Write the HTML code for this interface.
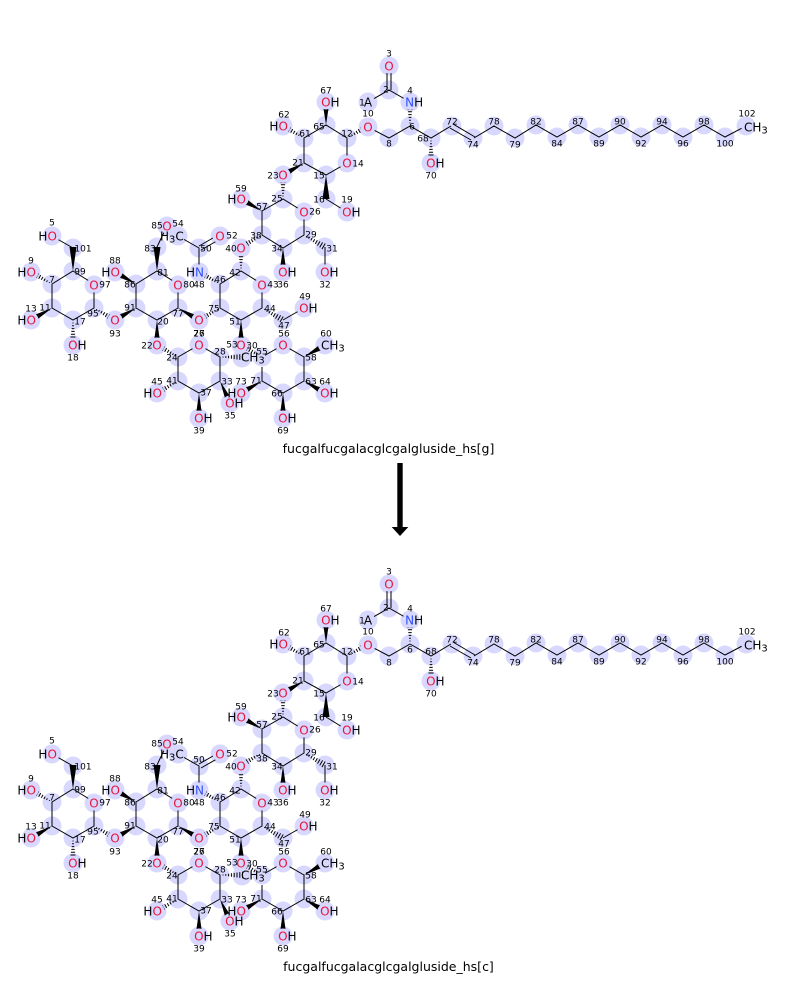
<!DOCTYPE html>
<html><head><meta charset="utf-8"><title>fucgalfucgalacglcgalgluside reaction</title>
<style>
html,body{margin:0;padding:0;background:#fff;width:800px;height:1000px;overflow:hidden}
svg{display:block}
text{font-family:"DejaVu Sans","Liberation Sans",sans-serif}
.a text{font-size:12px;fill:#000}
.r{fill:#e8153c}
.b{fill:#3050f8}
.c{text-anchor:middle}
.e{text-anchor:end}
.s{font-size:10px}
.n text{font-size:9px;fill:#000;text-anchor:middle}
.t{font-size:12.5px;fill:#000;text-anchor:middle}
</style></head><body>
<svg xmlns="http://www.w3.org/2000/svg" width="800" height="1000" viewBox="0 0 800 1000">
<defs>
<g id="h" stroke="#000" stroke-width="1" fill="none"><path d="M3 -.5V.5M5.8 -.9V.9M8.6 -1.3V1.3M11.4 -1.7V1.7M14.2 -2.1V2.1M17 -2.5V2.5M19.8 -2.9V2.9M22.6 -3.3V3.3"/></g>
<mask id="m" maskUnits="userSpaceOnUse" x="0" y="0" width="800" height="500">
<rect x="0" y="0" width="800" height="500" fill="#fff"/>
<g fill="#000">
<circle cx="52" cy="236" r="7.5"/><circle cx="94" cy="285" r="7.5"/><circle cx="31" cy="272" r="7.5"/><circle cx="31" cy="320" r="7.5"/><circle cx="73" cy="345" r="7.5"/><circle cx="115" cy="320" r="7.5"/><circle cx="115" cy="272" r="7.5"/><circle cx="167" cy="226" r="7.5"/><circle cx="178" cy="236" r="7"/><circle cx="220" cy="236" r="7.5"/><circle cx="199" cy="272" r="7.5"/><circle cx="178" cy="285" r="7.5"/><circle cx="199" cy="320" r="7.5"/><circle cx="199" cy="345" r="7.5"/><circle cx="157" cy="345" r="7.5"/><circle cx="157" cy="393" r="7.5"/><circle cx="199" cy="418" r="7.5"/><circle cx="230" cy="403" r="7.5"/><circle cx="241" cy="393" r="7.5"/><circle cx="283" cy="418" r="7.5"/><circle cx="325" cy="393" r="7.5"/><circle cx="325" cy="345" r="7"/><circle cx="283" cy="345" r="7.5"/><circle cx="241" cy="345" r="7.5"/><circle cx="262" cy="285" r="7.5"/><circle cx="304" cy="308" r="7.5"/><circle cx="241" cy="248" r="7.5"/><circle cx="241" cy="199" r="7.5"/><circle cx="304" cy="212" r="7.5"/><circle cx="283" cy="272" r="7.5"/><circle cx="325" cy="272" r="7.5"/><circle cx="283" cy="175" r="7.5"/><circle cx="347" cy="212" r="7.5"/><circle cx="347" cy="163" r="7.5"/><circle cx="283" cy="126" r="7.5"/><circle cx="326" cy="102" r="7.5"/><circle cx="368" cy="127" r="7.5"/><circle cx="410" cy="102" r="7.5"/><circle cx="368" cy="102" r="7"/><circle cx="389" cy="66" r="7.5"/><circle cx="431" cy="163" r="7.5"/><circle cx="746" cy="126" r="5"/>
<rect x="243" y="354" width="22" height="13"/>
</g></mask>
<g id="o" fill="#d8d8ff">
<circle cx="52" cy="236" r="9.5"/><circle cx="73" cy="248" r="9.5"/><circle cx="73" cy="271" r="9.5"/><circle cx="94" cy="285" r="9.5"/><circle cx="94" cy="308" r="9.5"/><circle cx="73" cy="320" r="9.5"/><circle cx="52" cy="308" r="9.5"/><circle cx="52" cy="284" r="9.5"/><circle cx="31" cy="272" r="9.5"/><circle cx="31" cy="320" r="9.5"/><circle cx="73" cy="345" r="9.5"/><circle cx="115" cy="320" r="9.5"/><circle cx="136" cy="308" r="9.5"/><circle cx="136" cy="284" r="9.5"/><circle cx="115" cy="272" r="9.5"/><circle cx="157" cy="271" r="9.5"/><circle cx="157" cy="247" r="9.5"/><circle cx="167" cy="226" r="9.5"/><circle cx="178" cy="236" r="9.5"/><circle cx="199" cy="248" r="9.5"/><circle cx="220" cy="236" r="9.5"/><circle cx="199" cy="272" r="9.5"/><circle cx="178" cy="285" r="9.5"/><circle cx="220" cy="284" r="9.5"/><circle cx="220" cy="308" r="9.5"/><circle cx="178" cy="308" r="9.5"/><circle cx="157" cy="320" r="9.5"/><circle cx="157" cy="345" r="9.5"/><circle cx="199" cy="320" r="9.5"/><circle cx="199" cy="345" r="9.5"/><circle cx="178" cy="357" r="9.5"/><circle cx="178" cy="381" r="9.5"/><circle cx="199" cy="393" r="9.5"/><circle cx="220" cy="381" r="9.5"/><circle cx="220" cy="357" r="9.5"/><circle cx="157" cy="393" r="9.5"/><circle cx="199" cy="418" r="9.5"/><circle cx="230" cy="403" r="9.5"/><circle cx="241" cy="393" r="9.5"/><circle cx="262" cy="381" r="9.5"/><circle cx="283" cy="393" r="9.5"/><circle cx="304" cy="381" r="9.5"/><circle cx="325" cy="393" r="9.5"/><circle cx="283" cy="418" r="9.5"/><circle cx="304" cy="357" r="9.5"/><circle cx="325" cy="345" r="9.5"/><circle cx="283" cy="345" r="9.5"/><circle cx="262" cy="357" r="9.5"/><circle cx="241" cy="345" r="9.5"/><circle cx="242" cy="358" r="9.5"/><circle cx="241" cy="320" r="9.5"/><circle cx="262" cy="308" r="9.5"/><circle cx="283" cy="320" r="9.5"/><circle cx="304" cy="308" r="9.5"/><circle cx="262" cy="285" r="9.5"/><circle cx="241" cy="271" r="9.5"/><circle cx="241" cy="248" r="9.5"/><circle cx="262" cy="235" r="9.5"/><circle cx="262" cy="211" r="9.5"/><circle cx="241" cy="199" r="9.5"/><circle cx="283" cy="199" r="9.5"/><circle cx="304" cy="212" r="9.5"/><circle cx="304" cy="235" r="9.5"/><circle cx="283" cy="248" r="9.5"/><circle cx="283" cy="272" r="9.5"/><circle cx="325" cy="247" r="9.5"/><circle cx="325" cy="272" r="9.5"/><circle cx="283" cy="175" r="9.5"/><circle cx="304" cy="163" r="9.5"/><circle cx="326" cy="175" r="9.5"/><circle cx="326" cy="199" r="9.5"/><circle cx="347" cy="212" r="9.5"/><circle cx="347" cy="163" r="9.5"/><circle cx="347" cy="138" r="9.5"/><circle cx="326" cy="125" r="9.5"/><circle cx="304" cy="138" r="9.5"/><circle cx="283" cy="126" r="9.5"/><circle cx="326" cy="102" r="9.5"/><circle cx="368" cy="127" r="9.5"/><circle cx="389" cy="138" r="9.5"/><circle cx="410" cy="126" r="9.5"/><circle cx="410" cy="102" r="9.5"/><circle cx="389" cy="90" r="9.5"/><circle cx="368" cy="102" r="9.5"/><circle cx="389" cy="66" r="9.5"/><circle cx="431" cy="138" r="9.5"/><circle cx="431" cy="163" r="9.5"/><circle cx="452" cy="126" r="9.5"/><circle cx="473" cy="138" r="9.5"/><circle cx="494" cy="126" r="9.5"/><circle cx="515" cy="138" r="9.5"/><circle cx="536" cy="125" r="9.5"/><circle cx="557" cy="137" r="9.5"/><circle cx="578" cy="125" r="9.5"/><circle cx="599" cy="137" r="9.5"/><circle cx="620" cy="125" r="9.5"/><circle cx="641" cy="137" r="9.5"/><circle cx="662" cy="125" r="9.5"/><circle cx="683" cy="137" r="9.5"/><circle cx="704" cy="125" r="9.5"/><circle cx="725" cy="137" r="9.5"/><circle cx="746" cy="126" r="9.5"/>
</g>
<g id="k" mask="url(#m)">
<path fill="none" stroke="#000" stroke-width="1" d="M52 236L73 248M73 271L94 284V308L73 320L52 308V284ZM136 308V284L157 271L178 284V308L157 320ZM157 247L167 226M220 308V284L241 271L262 284V308L241 320ZM199 272V248L178 236M199 246L220 234M201 250L222 238M283 320L304 308M178 357L199 345L220 357V381L199 393L178 381ZM262 357L283 345L304 357V381L283 393L262 381ZM262 235V211L283 199L304 212V235L283 248ZM325 247V272M304 163V138L326 125L347 138V163L326 175ZM326 199L347 212M368 127L389 138L410 126M410 102L389 90L368 102M387 90V66M391 90V66M410 126L431 138L451 126M453 124L475 137M450 128L471 140M474 138L494 126L515 138L536 125L557 137L578 125L599 137L620 125L641 137L662 125L683 137L704 125L725 137L746 126"/>
<g fill="#000">
<polygon points="73,271 69.5,247 76.5,247"/><polygon points="52,308 32.75,323 29.25,317"/><polygon points="136,308 116.75,323 113.25,317"/><polygon points="136,284 113.25,275 116.75,269"/><polygon points="157,271 153.5,247 160.5,247"/><polygon points="178,308 197.25,323 200.75,317"/><polygon points="157,320 153.5,345 160.5,345"/><polygon points="241,320 237.5,345 244.5,345"/><polygon points="220,381 233.2,401.6 226.8,404.4"/><polygon points="199,393 195.5,418 202.5,418"/><polygon points="304,357 326.75,348 323.25,342"/><polygon points="304,381 323.25,396 326.75,390"/><polygon points="283,393 279.5,418 286.5,418"/><polygon points="262,381 242.75,396 239.25,390"/><polygon points="262,211 239.25,202 242.75,196"/><polygon points="283,248 279.5,272 286.5,272"/><polygon points="304,163 284.75,178 281.25,172"/><polygon points="326,125 322.5,102 329.5,102"/><polygon points="326,175 322.5,199 329.5,199"/>
</g>
<use href="#h" transform="translate(52 284) rotate(210)"/>
<use href="#h" transform="translate(73 320) rotate(90)"/>
<use href="#h" transform="translate(94 308) rotate(30)"/>
<use href="#h" transform="translate(220 308) rotate(150)"/>
<use href="#h" transform="translate(220 284) rotate(210)"/>
<use href="#h" transform="translate(241 271) rotate(-90)"/>
<use href="#h" transform="translate(262 235) rotate(150)"/>
<use href="#h" transform="translate(262 308) rotate(30)"/>
<use href="#h" transform="translate(262 357) rotate(210)"/>
<use href="#h" transform="translate(178 357) rotate(210)"/>
<use href="#h" transform="translate(220 357) rotate(0)"/>
<use href="#h" transform="translate(178 381) rotate(150)"/>
<use href="#h" transform="translate(304 235) rotate(30)"/>
<use href="#h" transform="translate(283 199) rotate(-90)"/>
<use href="#h" transform="translate(304 138) rotate(210)"/>
<use href="#h" transform="translate(347 138) rotate(-30)"/>
<use href="#h" transform="translate(410 126) rotate(-90)"/>
<use href="#h" transform="translate(431 138) rotate(90)"/>
</g>
</defs>

<!-- top molecule -->
<use href="#o"/>
<use href="#k"/>
<g class="a" transform="translate(0 4.5)">
<text class="e" x="56.9" y="236">H<tspan class="r">O</tspan></text>
<text class="c" style="fill:#e8153c" x="94" y="285">O</text>
<text class="e" x="35.9" y="272">H<tspan class="r">O</tspan></text>
<text class="e" x="35.9" y="320">H<tspan class="r">O</tspan></text>
<text x="68.1" y="345"><tspan class="r">O</tspan>H</text>
<text class="c" style="fill:#e8153c" x="115" y="320">O</text>
<text class="e" x="119.9" y="272">H<tspan class="r">O</tspan></text>
<text class="c" style="fill:#e8153c" x="167" y="226">O</text>
<text x="160" y="236">H<tspan class="s" dy="2">3</tspan><tspan dy="-2">C</tspan></text>
<text class="c" style="fill:#e8153c" x="220" y="236">O</text>
<text class="e" x="204" y="272">H<tspan class="b">N</tspan></text>
<text class="c" style="fill:#e8153c" x="178" y="285">O</text>
<text class="c" style="fill:#e8153c" x="199" y="320">O</text>
<text class="c" style="fill:#e8153c" x="199" y="345">O</text>
<text class="c" style="fill:#e8153c" x="157" y="345">O</text>
<text class="e" x="161.9" y="393">H<tspan class="r">O</tspan></text>
<text x="194.1" y="418"><tspan class="r">O</tspan>H</text>
<text x="225.1" y="403"><tspan class="r">O</tspan>H</text>
<text class="e" x="245.9" y="393">H<tspan class="r">O</tspan></text>
<text x="278.1" y="418"><tspan class="r">O</tspan>H</text>
<text x="320.1" y="393"><tspan class="r">O</tspan>H</text>
<text x="321" y="345">CH<tspan class="s" dy="2">3</tspan></text>
<text class="c" style="fill:#e8153c" x="283" y="345">O</text>
<text class="c" style="fill:#e8153c" x="241" y="345">O</text>
<text x="241" y="357">CH<tspan class="s" dy="2">3</tspan></text>
<text class="c" style="fill:#e8153c" x="262" y="285">O</text>
<text x="299.1" y="308"><tspan class="r">O</tspan>H</text>
<text class="c" style="fill:#e8153c" x="241" y="248">O</text>
<text class="e" x="245.9" y="199">H<tspan class="r">O</tspan></text>
<text class="c" style="fill:#e8153c" x="304" y="212">O</text>
<text x="278.1" y="272"><tspan class="r">O</tspan>H</text>
<text x="320.1" y="272"><tspan class="r">O</tspan>H</text>
<text class="c" style="fill:#e8153c" x="283" y="175">O</text>
<text x="342.1" y="212"><tspan class="r">O</tspan>H</text>
<text class="c" style="fill:#e8153c" x="347" y="163">O</text>
<text class="e" x="287.9" y="126">H<tspan class="r">O</tspan></text>
<text x="321.1" y="102"><tspan class="r">O</tspan>H</text>
<text class="c" style="fill:#e8153c" x="368" y="127">O</text>
<text x="405.1" y="102"><tspan class="b">N</tspan>H</text>
<text class="c" x="368" y="102">A</text>
<text class="c" style="fill:#e8153c" x="389" y="66">O</text>
<text x="426.1" y="163"><tspan class="r">O</tspan>H</text>
<text x="744" y="127">CH<tspan class="s" dy="2">3</tspan></text>
</g>
<g class="n" transform="translate(0 3.3)">
<text x="52" y="222">5</text><text x="83" y="248">101</text><text x="80" y="271">99</text><text x="105" y="284">97</text><text x="93" y="313">95</text><text x="80" y="321">17</text><text x="45" y="307">11</text><text x="52" y="279">7</text><text x="31" y="260">9</text><text x="31" y="308">13</text><text x="73" y="357">18</text><text x="115" y="333">93</text><text x="130" y="307">91</text><text x="130" y="284">86</text><text x="115" y="260">88</text><text x="163" y="272">81</text><text x="150" y="248">83</text><text x="157" y="225">85</text><text x="178" y="223">54</text><text x="206" y="248">50</text><text x="232" y="235">52</text><text x="189" y="284">80</text><text x="199" y="284">48</text><text x="220" y="279">46</text><text x="214" y="308">75</text><text x="178" y="313">77</text><text x="163" y="321">20</text><text x="147" y="345">22</text><text x="199" y="333">27</text><text x="199" y="333">76</text><text x="172" y="357">24</text><text x="172" y="380">41</text><text x="206" y="392">37</text><text x="227" y="381">33</text><text x="220" y="351">28</text><text x="157" y="381">45</text><text x="199" y="430">39</text><text x="230" y="415">35</text><text x="241" y="381">73</text><text x="256" y="380">71</text><text x="277" y="393">66</text><text x="311" y="381">63</text><text x="325" y="381">64</text><text x="283" y="430">69</text><text x="311" y="357">58</text><text x="326" y="333">60</text><text x="284" y="333">56</text><text x="262" y="351">55</text><text x="232" y="344">53</text><text x="252" y="345">30</text><text x="235" y="321">51</text><text x="270" y="308">44</text><text x="284" y="325">47</text><text x="305" y="296">49</text><text x="273" y="284">43</text><text x="283" y="284">36</text><text x="235" y="272">42</text><text x="231" y="248">40</text><text x="256" y="235">38</text><text x="262" y="206">57</text><text x="241" y="188">59</text><text x="277" y="198">25</text><text x="315" y="211">26</text><text x="311" y="234">29</text><text x="277" y="248">34</text><text x="332" y="248">31</text><text x="325" y="284">32</text><text x="273" y="175">23</text><text x="298" y="162">21</text><text x="319" y="175">15</text><text x="319" y="199">16</text><text x="347" y="199">19</text><text x="358" y="163">14</text><text x="347" y="133">12</text><text x="319" y="126">65</text><text x="305" y="133">61</text><text x="284" y="114">62</text><text x="326" y="90">67</text><text x="368" y="113">10</text><text x="389" y="143">8</text><text x="412" y="126">6</text><text x="410" y="90">4</text><text x="386" y="89">2</text><text x="362" y="102">1</text><text x="389" y="53">3</text><text x="423" y="138">68</text><text x="431" y="175">70</text><text x="452" y="121">72</text><text x="473" y="144">74</text><text x="494" y="121">78</text><text x="515" y="144">79</text><text x="536" y="121">82</text><text x="557" y="143">84</text><text x="578" y="121">87</text><text x="599" y="143">89</text><text x="620" y="121">90</text><text x="641" y="143">92</text><text x="662" y="121">94</text><text x="683" y="143">96</text><text x="704" y="121">98</text><text x="725" y="143">100</text><text x="747" y="113">102</text>
</g>
<text class="t" x="388.5" y="453">fucgalfucgalacglcgalgluside_hs[g]</text>

<!-- arrow -->
<polygon points="397.3,463 402.7,463 402.7,527 408.3,527 400,536 391.7,527 397.3,527" fill="#000"/>

<!-- bottom molecule -->
<g transform="translate(0 518)">
<use href="#o"/>
<use href="#k"/>
<g class="a" transform="translate(0 4.5)">
<text class="e" x="56.9" y="236">H<tspan class="r">O</tspan></text>
<text class="c" style="fill:#e8153c" x="94" y="285">O</text>
<text class="e" x="35.9" y="272">H<tspan class="r">O</tspan></text>
<text class="e" x="35.9" y="320">H<tspan class="r">O</tspan></text>
<text x="68.1" y="345"><tspan class="r">O</tspan>H</text>
<text class="c" style="fill:#e8153c" x="115" y="320">O</text>
<text class="e" x="119.9" y="272">H<tspan class="r">O</tspan></text>
<text class="c" style="fill:#e8153c" x="167" y="226">O</text>
<text x="160" y="236">H<tspan class="s" dy="2">3</tspan><tspan dy="-2">C</tspan></text>
<text class="c" style="fill:#e8153c" x="220" y="236">O</text>
<text class="e" x="204" y="272">H<tspan class="b">N</tspan></text>
<text class="c" style="fill:#e8153c" x="178" y="285">O</text>
<text class="c" style="fill:#e8153c" x="199" y="320">O</text>
<text class="c" style="fill:#e8153c" x="199" y="345">O</text>
<text class="c" style="fill:#e8153c" x="157" y="345">O</text>
<text class="e" x="161.9" y="393">H<tspan class="r">O</tspan></text>
<text x="194.1" y="418"><tspan class="r">O</tspan>H</text>
<text x="225.1" y="403"><tspan class="r">O</tspan>H</text>
<text class="e" x="245.9" y="393">H<tspan class="r">O</tspan></text>
<text x="278.1" y="418"><tspan class="r">O</tspan>H</text>
<text x="320.1" y="393"><tspan class="r">O</tspan>H</text>
<text x="321" y="345">CH<tspan class="s" dy="2">3</tspan></text>
<text class="c" style="fill:#e8153c" x="283" y="345">O</text>
<text class="c" style="fill:#e8153c" x="241" y="345">O</text>
<text x="241" y="357">CH<tspan class="s" dy="2">3</tspan></text>
<text class="c" style="fill:#e8153c" x="262" y="285">O</text>
<text x="299.1" y="308"><tspan class="r">O</tspan>H</text>
<text class="c" style="fill:#e8153c" x="241" y="248">O</text>
<text class="e" x="245.9" y="199">H<tspan class="r">O</tspan></text>
<text class="c" style="fill:#e8153c" x="304" y="212">O</text>
<text x="278.1" y="272"><tspan class="r">O</tspan>H</text>
<text x="320.1" y="272"><tspan class="r">O</tspan>H</text>
<text class="c" style="fill:#e8153c" x="283" y="175">O</text>
<text x="342.1" y="212"><tspan class="r">O</tspan>H</text>
<text class="c" style="fill:#e8153c" x="347" y="163">O</text>
<text class="e" x="287.9" y="126">H<tspan class="r">O</tspan></text>
<text x="321.1" y="102"><tspan class="r">O</tspan>H</text>
<text class="c" style="fill:#e8153c" x="368" y="127">O</text>
<text x="405.1" y="102"><tspan class="b">N</tspan>H</text>
<text class="c" x="368" y="102">A</text>
<text class="c" style="fill:#e8153c" x="389" y="66">O</text>
<text x="426.1" y="163"><tspan class="r">O</tspan>H</text>
<text x="744" y="127">CH<tspan class="s" dy="2">3</tspan></text>
</g>
<g class="n" transform="translate(0 3.3)">
<text x="52" y="222">5</text><text x="83" y="248">101</text><text x="80" y="271">99</text><text x="105" y="284">97</text><text x="93" y="313">95</text><text x="80" y="321">17</text><text x="45" y="307">11</text><text x="52" y="279">7</text><text x="31" y="260">9</text><text x="31" y="308">13</text><text x="73" y="357">18</text><text x="115" y="333">93</text><text x="130" y="307">91</text><text x="130" y="284">86</text><text x="115" y="260">88</text><text x="163" y="272">81</text><text x="150" y="248">83</text><text x="157" y="225">85</text><text x="178" y="223">54</text><text x="199" y="241">50</text><text x="232" y="235">52</text><text x="189" y="284">80</text><text x="199" y="284">48</text><text x="220" y="279">46</text><text x="214" y="308">75</text><text x="178" y="313">77</text><text x="163" y="321">20</text><text x="147" y="345">22</text><text x="199" y="333">27</text><text x="199" y="333">76</text><text x="172" y="357">24</text><text x="172" y="380">41</text><text x="206" y="392">37</text><text x="227" y="381">33</text><text x="220" y="351">28</text><text x="157" y="381">45</text><text x="199" y="430">39</text><text x="230" y="415">35</text><text x="241" y="381">73</text><text x="256" y="380">71</text><text x="277" y="393">66</text><text x="311" y="381">63</text><text x="325" y="381">64</text><text x="283" y="430">69</text><text x="311" y="357">58</text><text x="326" y="333">60</text><text x="284" y="333">56</text><text x="262" y="351">55</text><text x="232" y="344">53</text><text x="252" y="345">30</text><text x="235" y="321">51</text><text x="270" y="308">44</text><text x="284" y="325">47</text><text x="305" y="296">49</text><text x="273" y="284">43</text><text x="283" y="284">36</text><text x="235" y="272">42</text><text x="231" y="248">40</text><text x="262" y="240">38</text><text x="262" y="206">57</text><text x="241" y="188">59</text><text x="277" y="198">25</text><text x="315" y="211">26</text><text x="311" y="234">29</text><text x="277" y="248">34</text><text x="332" y="248">31</text><text x="325" y="284">32</text><text x="273" y="175">23</text><text x="298" y="162">21</text><text x="319" y="175">15</text><text x="319" y="199">16</text><text x="347" y="199">19</text><text x="358" y="163">14</text><text x="347" y="133">12</text><text x="319" y="126">65</text><text x="305" y="133">61</text><text x="284" y="114">62</text><text x="326" y="90">67</text><text x="368" y="113">10</text><text x="389" y="144">8</text><text x="410" y="131">6</text><text x="410" y="90">4</text><text x="386" y="89">2</text><text x="362" y="102">1</text><text x="389" y="53">3</text><text x="431" y="133">68</text><text x="431" y="175">70</text><text x="452" y="121">72</text><text x="473" y="144">74</text><text x="494" y="121">78</text><text x="515" y="144">79</text><text x="536" y="121">82</text><text x="557" y="143">84</text><text x="578" y="121">87</text><text x="599" y="143">89</text><text x="620" y="121">90</text><text x="641" y="143">92</text><text x="662" y="121">94</text><text x="683" y="143">96</text><text x="704" y="121">98</text><text x="725" y="143">100</text><text x="747" y="113">102</text>
</g>
<text class="t" x="388.5" y="453">fucgalfucgalacglcgalgluside_hs[c]</text>
</g>
</svg>
</body></html>
